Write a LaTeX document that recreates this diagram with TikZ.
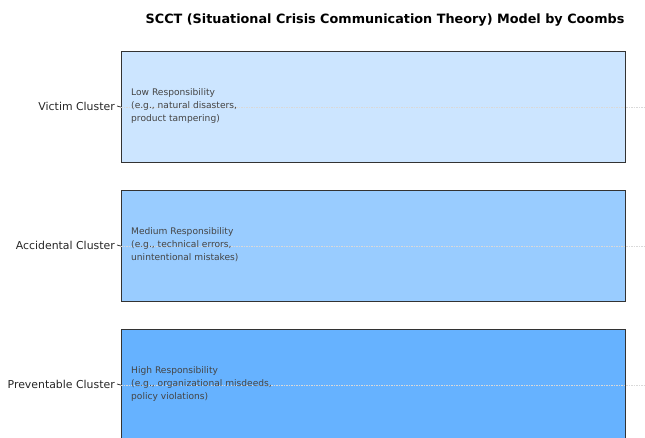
\documentclass[tikz,border=0pt]{standalone}
\usepackage{fontspec}
\setmainfont{DejaVu Sans}
\usepackage{tikz}
\usetikzlibrary{positioning, calc}

\definecolor{lowblue}{HTML}{CCE5FF}
\definecolor{midblue}{HTML}{99CCFF}
\definecolor{highblue}{HTML}{66B2FF}
\definecolor{edgegray}{HTML}{333333}
\definecolor{textgray}{HTML}{444444}

\tikzset{
    bar/.style={draw=edgegray, line width=1.2pt, minimum width=504pt, minimum height=111pt, anchor=north west, inner sep=0pt},
    clusterlbl/.style={anchor=east, inner sep=0pt, font=\fontsize{10.9}{13}\selectfont, text=black!85},
    resptext/.style={anchor=west, align=left, inner sep=0pt, font=\fontsize{9.1}{13}\selectfont, text=textgray},
    gridline/.style={draw=black!15, line width=0.7pt, dash pattern=on 1.5pt off 1pt},
    tick/.style={draw=black!80, line width=0.8pt}
}

\begin{document}
\begin{tikzpicture}[x=1pt, y=-1pt]
    \useasboundingbox (0,0) rectangle (645,437);
    \clip (0,0) rectangle (645,437);
    \coordinate (RightEdge) at (645,0);

    \node (Title) at (385,20) {\fontsize{12.8}{15}\selectfont\bfseries SCCT (Situational Crisis Communication Theory) Model by Coombs};

    % bars
    \node (VictimBar) [bar, fill=lowblue] at (121,51) {};
    \node (AccidentalBar) [bar, fill=midblue] at (121,190) {};
    \node (PreventableBar) [bar, fill=highblue] at (121,329) {};

    % grid
    \draw[gridline] (VictimBar.west) -- (VictimBar.west -| RightEdge);
    \draw[gridline] (AccidentalBar.west) -- (AccidentalBar.west -| RightEdge);
    \draw[gridline] (PreventableBar.west) -- (PreventableBar.west -| RightEdge);

    % axis labels
    \node (VictimLbl) [clusterlbl] at (115,106) {Victim Cluster};
    \node (AccidentalLbl) [clusterlbl] at (115,245) {Accidental Cluster};
    \node (PreventableLbl) [clusterlbl] at (115,384) {Preventable Cluster};
    \draw[tick] ([xshift=2pt]VictimLbl.east) -- (VictimBar.west);
    \draw[tick] ([xshift=2pt]AccidentalLbl.east) -- (AccidentalBar.west);
    \draw[tick] ([xshift=2pt]PreventableLbl.east) -- (PreventableBar.west);

    % texts inside bars
    \node (VictimTxt) [resptext] at (131,106) {Low Responsibility\\(e.g., natural disasters,\\product tampering)};
    \node (AccidentalTxt) [resptext] at (131,245) {Medium Responsibility\\(e.g., technical errors,\\unintentional mistakes)};
    \node (PreventableTxt) [resptext] at (131,384) {High Responsibility\\(e.g., organizational misdeeds,\\policy violations)};
\end{tikzpicture}
\end{document}
